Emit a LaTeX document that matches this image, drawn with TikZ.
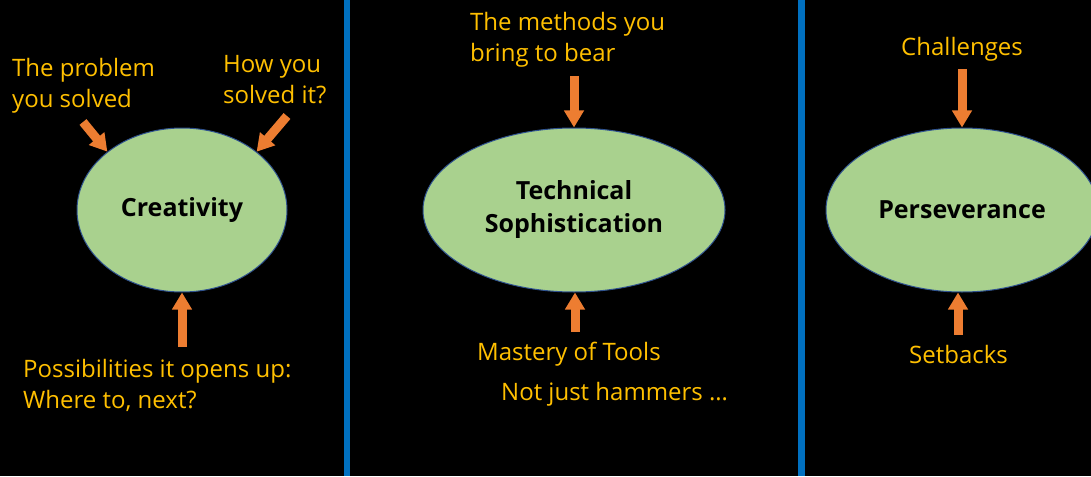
\documentclass[tikz,border=0pt]{standalone}
\usepackage{fontspec}
\setmainfont{Open Sans}
\usetikzlibrary{shapes.geometric,arrows.meta}
\definecolor{leaf}{HTML}{A9D18E}
\definecolor{rim}{HTML}{2F528F}
\definecolor{amber}{HTML}{FFC000}
\definecolor{rust}{HTML}{ED7D31}
\definecolor{bar}{HTML}{0070C0}

\tikzset{
  idea/.style={ellipse, fill=leaf, draw=rim, line width=1pt, inner sep=0pt,
    align=center, font=\bfseries\fontsize{25}{33}\selectfont},
  note/.style={text=amber, inner sep=0pt, anchor=base west, align=left,
    font=\fontsize{24}{31}\selectfont},
  push/.style={rust, line width=9pt, -{Triangle[width=19pt,length=17pt]}}
}

\begin{document}
\begin{tikzpicture}[x=1pt,y=-1pt]
    \fill[black] (0,0) rectangle (1091,476);
    \useasboundingbox (0,0) rectangle (1091,476);
    \draw[bar, line width=6pt] (347,0) -- (347,476);
    \draw[bar, line width=7pt] (801,0) -- (801,476);

    \node[idea, minimum width=210pt, minimum height=164pt] (cre) at (182,210) {Creativity};
    \node[idea, minimum width=302pt, minimum height=164pt] (tech) at (574,210) {Technical\\Sophistication};
    \node[idea, minimum width=272pt, minimum height=164pt] (per) at (962,210) {Perseverance};

    % two-line notes sit on their last baseline
    \node[note] (prob) at (12,108) {The problem\\you solved};
    \node[note] (how) at (223,103) {How you\\solved it?};
    \node[note] (poss) at (23,408) {Possibilities it opens up:\\Where to, next?};
    \node[note] (meth) at (470,62) {The methods you\\bring to bear};
    \node[note] (mast) at (477,360) {Mastery of Tools};
    \node[note] (ham) at (501,400) {Not just hammers \dots};
    \node[note] (chal) at (901,56) {Challenges};
    \node[note] (setb) at (909,363) {Setbacks};

    \coordinate (probtail) at (83,122);
    \coordinate (howtail) at (287,116);
    \coordinate (posstail) at (182,347);
    \coordinate (methtail) at (574,76);
    \coordinate (masttail) at (575,332);
    \coordinate (chaltail) at (962,69);
    \coordinate (setbtail) at (958,335);

    \draw[push] (probtail) -- (cre.142);
    \draw[push] (howtail) -- (cre.38);
    \draw[push] (posstail) -- (cre.south);
    \draw[push] (methtail) -- (tech.north);
    \draw[push] (masttail) -- (masttail |- tech.south);
    \draw[push] (chaltail) -- (per.north);
    \draw[push] (setbtail) -- (setbtail |- per.south);
\end{tikzpicture}
\end{document}
